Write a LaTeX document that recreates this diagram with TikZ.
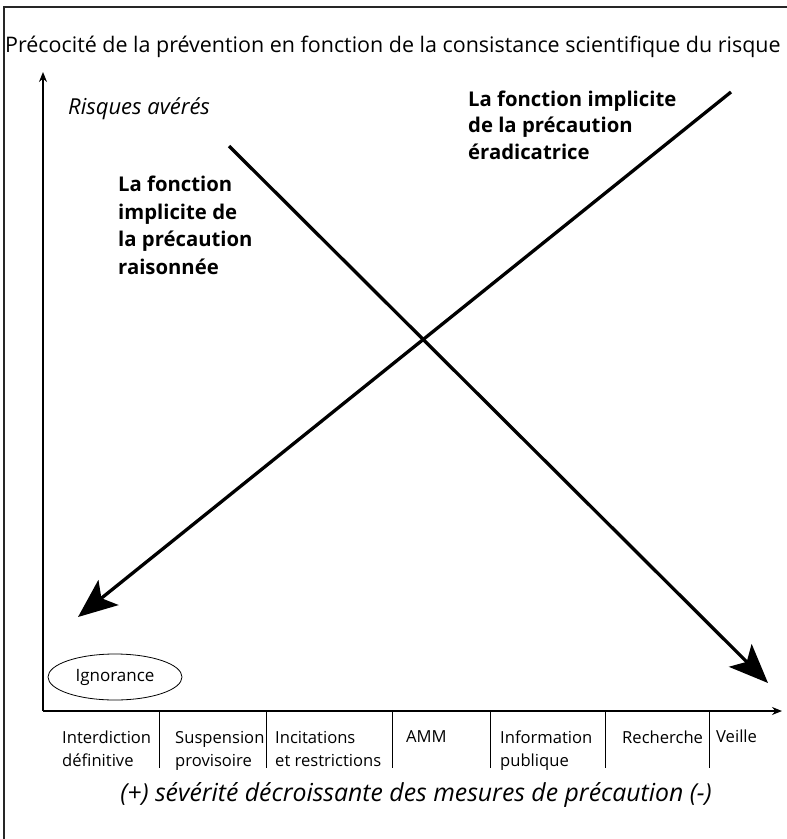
\documentclass[tikz,border=0pt]{standalone}
\usepackage{fontspec}
\setmainfont{Open Sans}
\usetikzlibrary{arrows.meta,shapes.geometric}
\begin{document}
\begin{tikzpicture}[x=1pt,y=-1pt,
  frameline/.style={line width=1.4pt,draw=black!85},
  axisline/.style={line width=1.2pt,-{Stealth[length=10pt,width=8pt]}},
  bigarrow/.style={line width=3.3pt,-{Stealth[length=39pt,width=32pt,inset=9pt]}},
  sep/.style={line width=1pt},
  cat/.style={anchor=base west,inner sep=0pt,font=\fontsize{16.6}{19}\selectfont},
  boldlab/.style={anchor=base west,inner sep=0pt,font=\bfseries\fontsize{20.3}{24}\selectfont},
  ital/.style={anchor=base west,inner sep=0pt,font=\itshape\fontsize{22}{26}\selectfont}]
\useasboundingbox (0,0) rectangle (787,839);
% frame
\draw[frameline] (4,839) -- (4,7) -- (787,7);
% title
\node[anchor=base west,inner sep=0pt,font=\fontsize{21.45}{25}\selectfont] (title) at (5,52) {Précocité de la prévention en fonction de la consistance scientifique du risque};
% axes
\coordinate (origin) at (43,711);
\coordinate (ytop) at (43,72);
\coordinate (xend) at (782,711);
\draw[axisline] (origin) -- (ytop);
\draw[axisline] (origin) -- (xend);
\node[ital] (risq) at (68,114) {Risques avérés};
% separators
\foreach \xx/\nm in {159/s1,266/s2,392/s3,490/s4,605/s5,709/s6}{
  \coordinate (\nm a) at (\xx,711);
  \coordinate (\nm b) at (\xx,768);
  \draw[sep] (\nm a) -- (\nm b);
}
% categories
\node[cat] (c1a) at (62,743) {Interdiction};
\node[cat] (c1b) at (62,766) {définitive};
\node[cat] (c2a) at (175,743) {Suspension};
\node[cat] (c2b) at (175,766) {provisoire};
\node[cat] (c3a) at (275,743) {Incitations};
\node[cat] (c3b) at (275,766) {et restrictions};
\node[cat] (c4) at (406,742) {AMM};
\node[cat] (c5a) at (500,743) {Information};
\node[cat] (c5b) at (500,766) {publique};
\node[cat] (c6) at (622,743) {Recherche};
\node[cat] (c7) at (716,742) {Veille};
\node[anchor=base,inner sep=0pt,font=\itshape\fontsize{24.8}{28}\selectfont] (sev) at (416,801) {(+) sévérité décroissante des mesures de précaution (-)};
% ignorance
\node[draw,ellipse,line width=0.8pt,minimum width=134pt,minimum height=46pt,inner sep=0pt,font=\fontsize{17}{20}\selectfont] (ign) at (115,677) {Ignorance};
% big arrows
\coordinate (r1) at (229,146);
\coordinate (r2) at (768,683);
\coordinate (e1) at (731,92);
\coordinate (e2) at (78,617);
\draw[bigarrow] (r1) -- (r2);
\draw[bigarrow] (e1) -- (e2);
% labels
\node[boldlab] (rais1) at (118,191) {La fonction};
\node[boldlab] (rais2) at (118,219) {implicite de};
\node[boldlab] (rais3) at (118,246) {la précaution};
\node[boldlab] (rais4) at (118,274) {raisonnée};
\node[boldlab] (erad1) at (468,106) {La fonction implicite};
\node[boldlab] (erad2) at (468,132) {de la précaution};
\node[boldlab] (erad3) at (468,159) {éradicatrice};
\end{tikzpicture}
\end{document}
